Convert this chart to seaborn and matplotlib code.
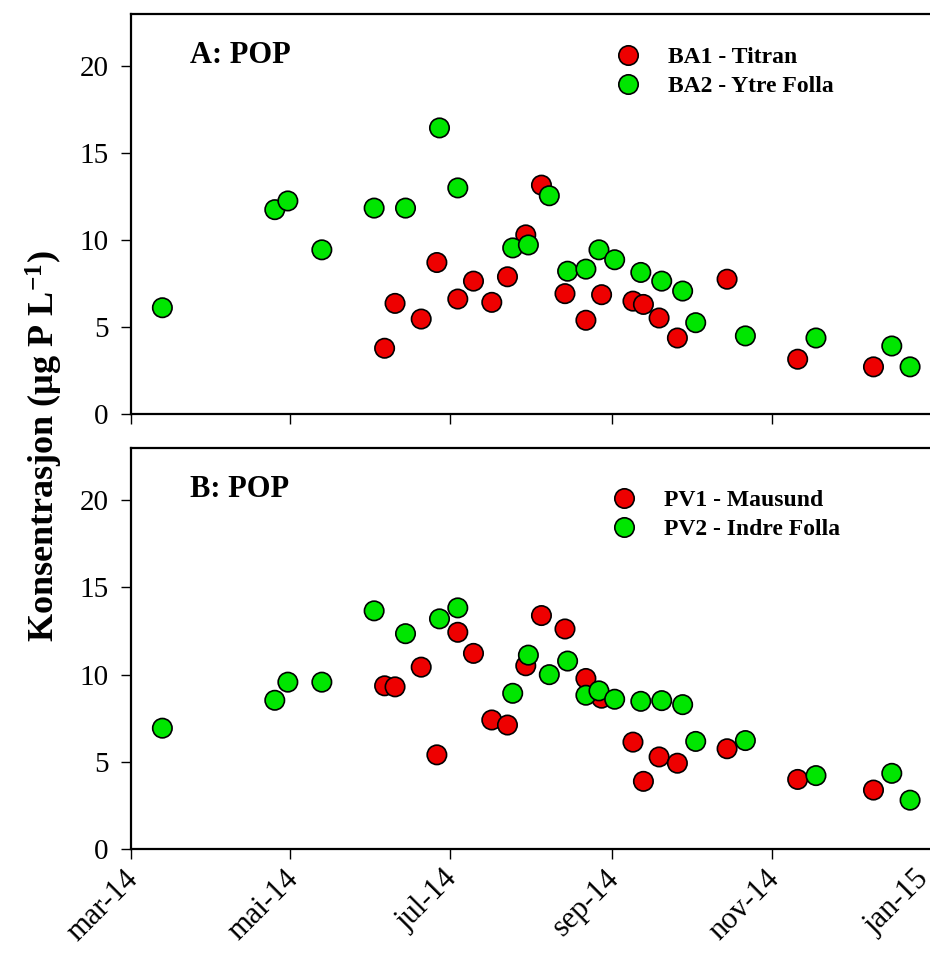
import matplotlib
matplotlib.use("Agg")
import matplotlib.pyplot as plt
import matplotlib.transforms as mtransforms
import seaborn as sns
import pandas as pd
import numpy as np

# ---------------- data ----------------
red_dates = ["2014-06-06", "2014-06-10", "2014-06-20", "2014-06-26", "2014-07-04",
             "2014-07-10", "2014-07-17", "2014-07-23", "2014-07-30", "2014-08-05",
             "2014-08-14", "2014-08-22", "2014-08-28", "2014-09-09", "2014-09-13",
             "2014-09-19", "2014-09-26", "2014-10-15", "2014-11-11", "2014-12-10"]
green_dates = ["2014-03-13", "2014-04-25", "2014-04-30", "2014-05-13", "2014-06-02",
               "2014-06-14", "2014-06-27", "2014-07-04", "2014-07-25", "2014-07-31",
               "2014-08-08", "2014-08-15", "2014-08-22", "2014-08-27", "2014-09-02",
               "2014-09-12", "2014-09-20", "2014-09-28", "2014-10-03", "2014-10-22",
               "2014-11-18", "2014-12-17", "2014-12-24"]

ba1_titran = [3.78, 6.36, 5.46, 8.71, 6.61, 7.64, 6.42, 7.89, 10.3, 13.16,
              6.92, 5.39, 6.86, 6.49, 6.30, 5.52, 4.37, 7.75, 3.15, 2.71]
ba2_ytre_folla = [6.11, 11.75, 12.25, 9.44, 11.84, 11.84, 16.45, 13.0, 9.55, 9.72,
                  12.55, 8.21, 8.33, 9.44, 8.87, 8.14, 7.64, 7.07, 5.25, 4.49,
                  4.37, 3.91, 2.71]
pv1_mausund = [9.36, 9.30, 10.43, 5.40, 12.43, 11.22, 7.40, 7.11, 10.51, 13.39,
               12.62, 9.78, 8.65, 6.13, 3.88, 5.28, 4.92, 5.75, 3.99, 3.38]
pv2_indre_folla = [6.93, 8.53, 9.57, 9.57, 13.66, 12.35, 13.2, 13.83, 8.93, 11.12,
                   10.0, 10.78, 8.82, 9.07, 8.59, 8.47, 8.51, 8.28, 6.17, 6.22,
                   4.21, 4.34, 2.80]

tick_dates = ["2014-03-01", "2014-05-01", "2014-07-01", "2014-09-01", "2014-11-01", "2015-01-01"]
tick_labels = ["mar-14", "mai-14", "jul-14", "sep-14", "nov-14", "jan-15"]
yticks = [0, 5, 10, 15, 20]

panels = [
    ("A: POP", "BA1 - Titran", ba1_titran, "BA2 - Ytre Folla", ba2_ytre_folla),
    ("B: POP", "PV1 - Mausund", pv1_mausund, "PV2 - Indre Folla", pv2_indre_folla),
]
legend_anchor = [(0.592, 0.9475), (0.587, 0.925)]

# ---------------- style ----------------
sns.set_theme(style="ticks")
plt.rcParams["font.family"] = ["Liberation Serif", "DejaVu Serif"]
plt.rcParams["mathtext.fontset"] = "custom"
plt.rcParams["mathtext.rm"] = "Liberation Serif"
plt.rcParams["mathtext.bf"] = "Liberation Serif:bold"
plt.rcParams["mathtext.it"] = "Liberation Serif:italic"

RED = "#ee0000"
GREEN = "#00e600"

fig = plt.figure(figsize=(9.3, 9.56), dpi=100)
W, H = 930.0, 956.0
left = 131 / W
width = 800 / W
axes = [
    fig.add_axes([left, 1 - 414 / H, width, 400 / H]),
    fig.add_axes([left, 1 - 849 / H, width, 401 / H]),
]

for ax, (title, n1, v1, n2, v2), anc in zip(axes, panels, legend_anchor):
    df = pd.concat([
        pd.DataFrame({"date": pd.to_datetime(red_dates), "val": v1, "station": n1}),
        pd.DataFrame({"date": pd.to_datetime(green_dates), "val": v2, "station": n2}),
    ], ignore_index=True)
    sns.scatterplot(data=df, x="date", y="val", hue="station",
                    palette={n1: RED, n2: GREEN}, s=195, edgecolor="black",
                    linewidth=1.2, ax=ax, zorder=3)
    ax.set_xlim(pd.Timestamp("2014-03-01"), pd.Timestamp("2015-01-01"))
    ax.set_ylim(0, 23)
    ax.set_yticks(yticks)
    ax.set_yticklabels([str(t) for t in yticks], fontsize=21)
    ax.set_xticks(pd.to_datetime(tick_dates))
    ax.set_xlabel("")
    ax.set_ylabel("")
    for sp in ["left", "top", "bottom"]:
        ax.spines[sp].set_linewidth(1.6)
        ax.spines[sp].set_color("black")
    ax.spines["right"].set_visible(False)
    ax.tick_params(axis="both", direction="out", length=7, width=1.0, color="black",
                   labelcolor="black")
    ax.tick_params(axis="y", pad=9)
    ax.text(0.074, 0.877, title, transform=ax.transAxes, fontsize=22,
            fontweight="bold", va="baseline", ha="left", color="black")
    leg = ax.legend(loc="upper left", bbox_to_anchor=anc, frameon=False,
                    borderpad=0, handletextpad=1.2, labelspacing=0.3,
                    handlelength=1.0, prop={"size": 17, "weight": "bold"},
                    markerscale=1.0)
    for t in leg.get_texts():
        t.set_color("black")

axes[0].set_xticklabels([])
axes[1].tick_params(axis="x", pad=4)
axes[1].set_xticklabels(tick_labels, fontsize=22, rotation=45, ha="right",
                        rotation_mode="anchor")
major = axes[1].xaxis.get_major_ticks()
for i, tick in enumerate(major):
    dx = -16 if i == len(major) - 1 else -7
    shift = mtransforms.ScaledTranslation(dx / 100, 0, fig.dpi_scale_trans)
    tick.label1.set_transform(tick.label1.get_transform() + shift)

fig.text(0.048, 1 - 446 / H, r"Konsentrasjon (µg P L$^{\mathbf{-1}}$)",
         rotation=90, va="center", ha="center", fontsize=26, fontweight="bold",
         color="black")

fig.savefig("out.png", dpi=100)
